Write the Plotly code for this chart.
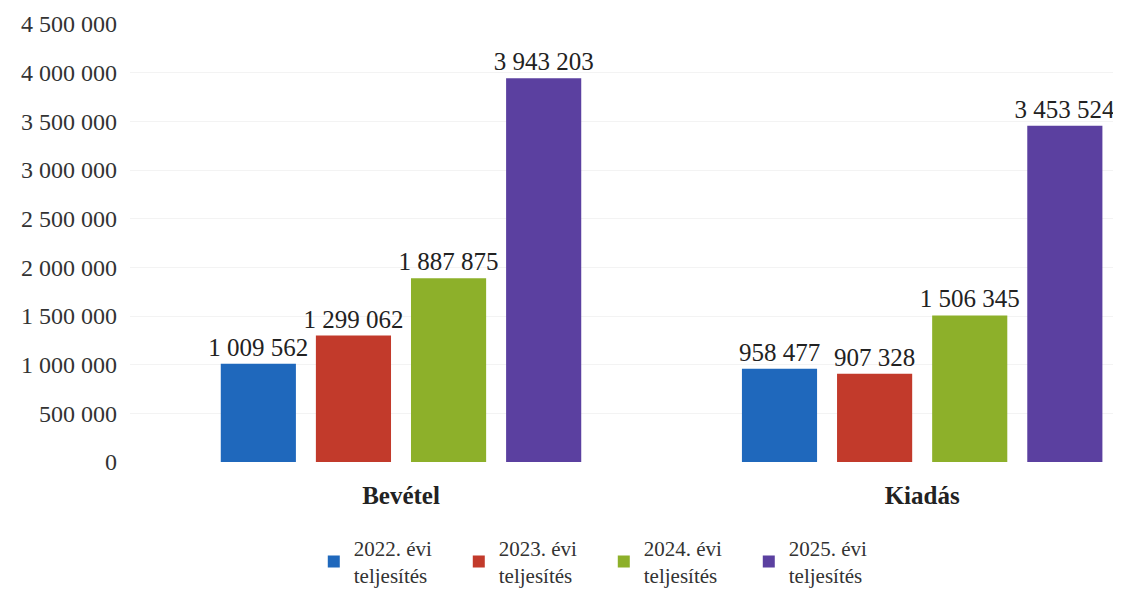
import plotly.graph_objects as go

categories = ["Bevétel", "Kiadás"]
series_names = ["2022. évi<br>teljesítés", "2023. évi<br>teljesítés",
                "2024. évi<br>teljesítés", "2025. évi<br>teljesítés"]
values_2022 = [1009562, 958477]
values_2023 = [1299062, 907328]
values_2024 = [1887875, 1506345]
values_2025 = [3943203, 3453524]
colors = ["#1f68bc", "#c23a2b", "#8db02a", "#5b40a0"]

all_values = [values_2022, values_2023, values_2024, values_2025]

FONT = "Liberation Serif, DejaVu Serif, serif"

fig = go.Figure()
for name, vals, col in zip(series_names, all_values, colors):
    fig.add_trace(go.Bar(
        x=categories, y=vals, name=name,
        marker=dict(color=col, line=dict(width=0)),
        texttemplate="%{y:,d}", textposition="outside",
        constraintext="none", cliponaxis=False,
        textfont=dict(family=FONT, size=25, color="#222222"),
    ))

fig.update_layout(
    width=1113, height=588,
    paper_bgcolor="white", plot_bgcolor="white",
    separators=", ",
    barmode="group", bargap=0.27, bargroupgap=0.21,
    margin=dict(l=122, r=6, t=16, b=134, autoexpand=False),
    font=dict(family=FONT, size=21, color="#333333"),
    showlegend=True,
    legend=dict(orientation="h", x=0.481, xanchor="center", y=-0.15, yanchor="top",
                font=dict(family=FONT, size=21, color="#333333"),
                itemwidth=30, traceorder="normal", entrywidth=100),
    xaxis=dict(range=[-0.52, 1.37], showline=False, ticks="", automargin=False,
               tickfont=dict(family=FONT, size=25, color="#222222", weight="bold"),
               ticklabelstandoff=16),
    yaxis=dict(range=[0, 4500000], dtick=500000, tickformat=",d", automargin=False,
               showgrid=True, gridcolor="#f3f3f3", zeroline=False, showline=False,
               tickfont=dict(family=FONT, size=24, color="#333333"),
               ticklabelstandoff=12),
)

fig.write_html("out.html")
